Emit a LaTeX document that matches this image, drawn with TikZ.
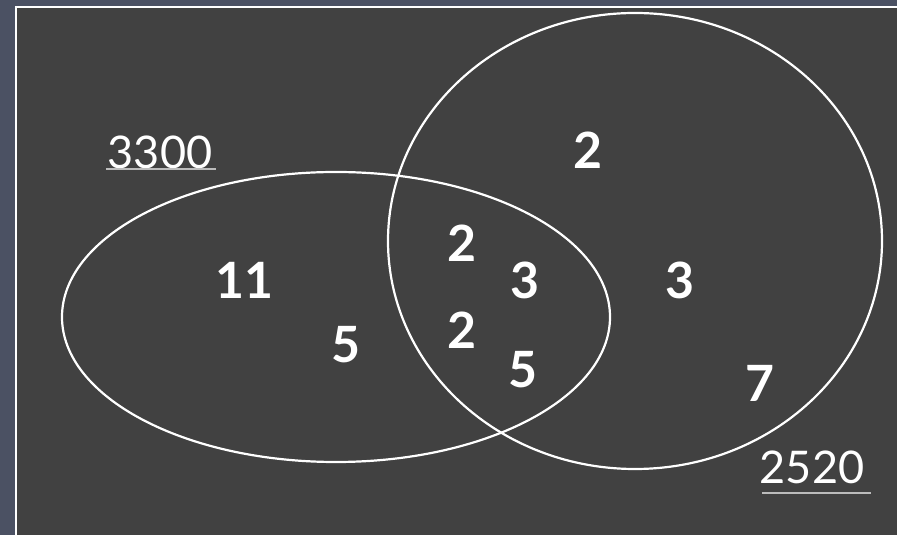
\documentclass[tikz,border=0pt]{standalone}
\usepackage{fontspec}
\setmainfont{Lato}
\usetikzlibrary{calc}

\definecolor{slate}{HTML}{4B5163}
\definecolor{board}{HTML}{414141}

\begin{document}
\begin{tikzpicture}[
    x=1pt,
    y=1pt,
    frame/.style={
        draw=white,
        line width=2.5pt,
        fill=board
    },
    chalk/.style={
        draw=white,
        line width=2.2pt
    },
    num/.style={
        text=white,
        font=\fontsize{50}{50}\selectfont\bfseries,
        inner sep=0pt
    },
    total/.style={
        text=white,
        font=\fontsize{45}{45}\selectfont,
        inner sep=0pt
    },
    rule/.style={
        draw=white!65!board,
        line width=1.2pt
    }
]

% =====================================================
% Board
% =====================================================

\fill[slate] (0,0) rectangle (897,535);
\useasboundingbox (0,0) rectangle (897,535);
\draw[frame] (16,528) rectangle (910,-10);

% =====================================================
% Sets
% =====================================================

\draw[chalk] (336,218) ellipse [x radius=274, y radius=145];
\draw[chalk] (635,294) ellipse [x radius=247, y radius=228];

% =====================================================
% Totals
% =====================================================

\node[total] (A) at (160,383) {3300};
\node[total] (B) at (812,68) {2520};

\coordinate (A1) at (106,366);
\coordinate (A2) at (216,366);
\coordinate (B1) at (762,42);
\coordinate (B2) at (871,42);

\draw[rule] (A1) -- (A2);
\draw[rule] (B1) -- (B2);

% =====================================================
% Factors
% =====================================================

\node[num] (A11) at (244,255) {11};
\node[num] (A5)  at (346,190) {5};

\node[num] (C2a) at (462,292) {2};
\node[num] (C3)  at (525,255) {3};
\node[num] (C2b) at (462,205) {2};
\node[num] (C5)  at (523,165) {5};

\node[num] (B2a) at (588,385) {2};
\node[num] (B3)  at (680,255) {3};
\node[num] (B7)  at (760,152) {7};

\end{tikzpicture}
\end{document}
